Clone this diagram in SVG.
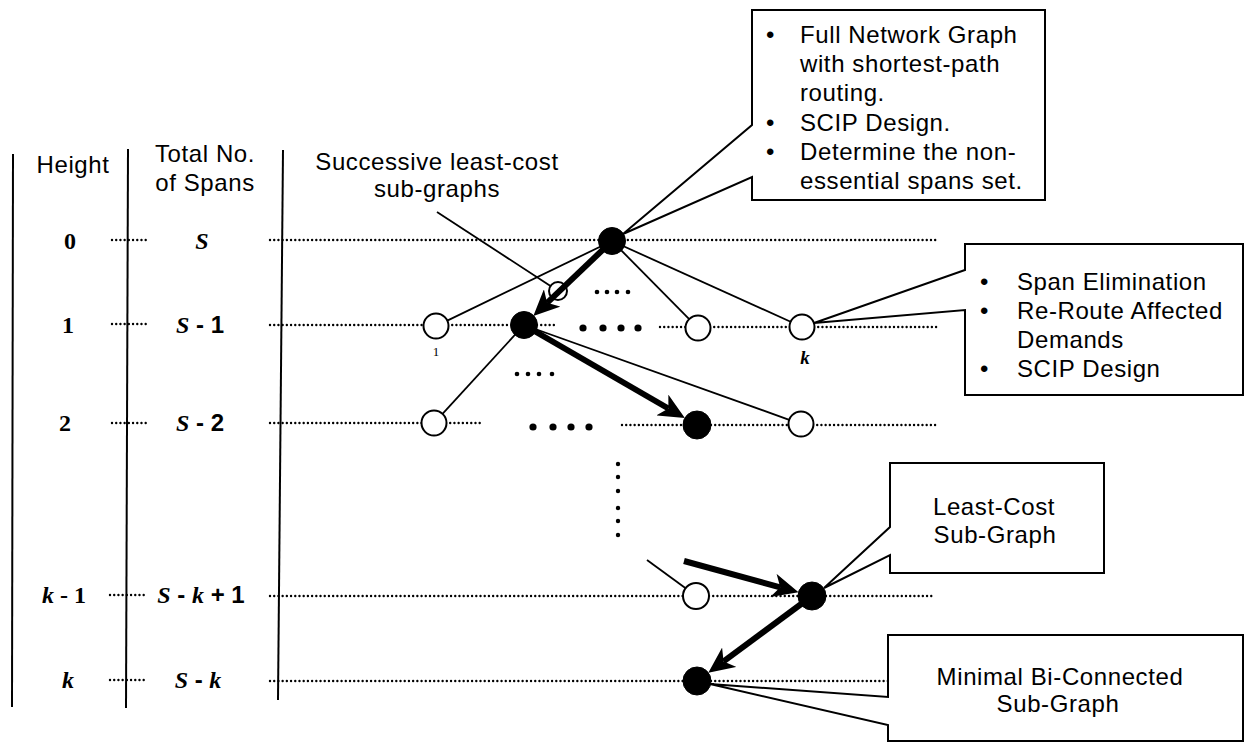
<svg xmlns="http://www.w3.org/2000/svg" width="1245" height="743" viewBox="0 0 1245 743">
  <style>
    .t { font-family: "Liberation Sans", Arial, sans-serif; font-size: 24px; letter-spacing: 0.6px; fill: #000; }
    .m { text-anchor: middle; }
    .num { font-family: "Liberation Serif", "Times New Roman", serif; font-size: 24px; font-weight: bold; fill: #000; text-anchor: middle; }
    .it { font-style: italic; }
    .sans { font-family: "Liberation Sans", Arial, sans-serif; }
    .rule { stroke: #000; stroke-width: 2; fill: none; }
    .dot { stroke: #000; stroke-width: 2.4; stroke-dasharray: 0.01 4.2; stroke-linecap: round; fill: none; }
    .edge { stroke: #000; stroke-width: 1.8; fill: none; }
    .flow { stroke: #000; stroke-width: 6; fill: none; marker-end: url(#head); }
    .open { fill: #fff; stroke: #000; stroke-width: 2; }
    .solid { fill: #000; stroke: #000; stroke-width: 1; }
    .call { fill: #fff; stroke: #000; stroke-width: 2; stroke-linejoin: miter; }
  </style>
  <defs>
    <marker id="head" viewBox="0 0 26 24" refX="7" refY="12" markerWidth="26" markerHeight="24" markerUnits="userSpaceOnUse" orient="auto">
      <path d="M0,0 L26,12 L0,24 L7,12 Z" fill="#000"/>
    </marker>
  </defs>

  <!-- column rules -->
  <g id="columns">
    <line class="rule" x1="13" y1="154" x2="12" y2="707"/>
    <line class="rule" x1="128" y1="149" x2="126" y2="708"/>
    <line class="rule" x1="283" y1="150" x2="278" y2="700"/>
  </g>

  <!-- column headings and level labels -->
  <g id="labels">
    <text class="t m" x="73" y="173">Height</text>
    <text class="t m" x="205" y="162">Total No.</text>
    <text class="t m" x="205" y="191">of Spans</text>

    <text class="num" x="70" y="249">0</text>
    <text class="num" x="68" y="333">1</text>
    <text class="num" x="65" y="431">2</text>
    <text class="num" x="64" y="603"><tspan class="it">k</tspan> - 1</text>
    <text class="num" x="68" y="688"><tspan class="it">k</tspan></text>

    <text class="num" x="202" y="249"><tspan class="it">S</tspan></text>
    <text class="num" x="200" y="333"><tspan class="it">S</tspan><tspan class="sans"> - 1</tspan></text>
    <text class="num" x="200" y="431"><tspan class="it">S</tspan><tspan class="sans"> - 2</tspan></text>
    <text class="num" x="201" y="603"><tspan class="it">S</tspan><tspan class="sans"> - </tspan><tspan class="it">k</tspan><tspan class="sans"> + 1</tspan></text>
    <text class="num" x="198" y="688"><tspan class="it">S</tspan><tspan class="sans"> - </tspan><tspan class="it">k</tspan></text>

    <text class="t m" x="437" y="170">Successive least-cost</text>
    <text class="t m" x="437" y="197">sub-graphs</text>
  </g>

  <!-- dotted level lines -->
  <g id="levels">
    <line class="dot" x1="112" y1="240" x2="147" y2="240"/>
    <line class="dot" x1="112" y1="324" x2="147" y2="324"/>
    <line class="dot" x1="112" y1="423" x2="147" y2="423"/>
    <line class="dot" x1="110" y1="595" x2="145" y2="595"/>
    <line class="dot" x1="110" y1="680" x2="145" y2="680"/>

    <line class="dot" x1="270" y1="240" x2="937" y2="240"/>

    <line class="dot" x1="270" y1="325" x2="424" y2="325"/>
    <line class="dot" x1="448" y1="325" x2="511" y2="325"/>
    <line class="dot" x1="537" y1="325" x2="558" y2="325"/>
    <line class="dot" x1="660" y1="327" x2="686" y2="327"/>
    <line class="dot" x1="710" y1="327" x2="790" y2="327"/>
    <line class="dot" x1="814" y1="327" x2="937" y2="327"/>

    <line class="dot" x1="270" y1="423" x2="422" y2="423"/>
    <line class="dot" x1="446" y1="423" x2="480" y2="423"/>
    <line class="dot" x1="622" y1="425" x2="683" y2="425"/>
    <line class="dot" x1="711" y1="425" x2="789" y2="425"/>
    <line class="dot" x1="813" y1="425" x2="937" y2="425"/>

    <line class="dot" x1="270" y1="596" x2="683" y2="596"/>
    <line class="dot" x1="709" y1="596" x2="798" y2="596"/>
    <line class="dot" x1="826" y1="596" x2="935" y2="596"/>

    <line class="dot" x1="270" y1="681" x2="683" y2="681"/>
    <line class="dot" x1="711" y1="681" x2="888" y2="681"/>
  </g>

  <!-- ellipsis dots between nodes -->
  <g id="ellipses" fill="#000">
    <circle cx="597" cy="292" r="2.3"/><circle cx="607" cy="292" r="2.3"/><circle cx="617" cy="292" r="2.3"/><circle cx="628" cy="292" r="2.3"/>
    <circle cx="583" cy="328" r="3.6"/><circle cx="603" cy="328" r="3.6"/><circle cx="621" cy="328" r="3.6"/><circle cx="638" cy="328" r="3.6"/>
    <circle cx="517" cy="374" r="2.3"/><circle cx="528" cy="374" r="2.3"/><circle cx="539" cy="374" r="2.3"/><circle cx="552" cy="374" r="2.3"/>
    <circle cx="533" cy="427" r="3.6"/><circle cx="553" cy="427" r="3.6"/><circle cx="571" cy="427" r="3.6"/><circle cx="589" cy="427" r="3.6"/>
    <circle cx="618" cy="464" r="2.2"/><circle cx="618" cy="477" r="2.2"/><circle cx="618" cy="491" r="2.2"/>
    <circle cx="618" cy="508" r="2.2"/><circle cx="618" cy="521" r="2.2"/><circle cx="618" cy="535" r="2.2"/>
  </g>

  <!-- graph nodes -->
  <g id="n-root"><circle class="solid" cx="612" cy="241" r="13.5"/></g>
  <g id="n-hidden"><circle class="open" cx="558" cy="291" r="9"/></g>
  <g id="n-1-1"><circle class="open" cx="436" cy="326" r="12.5"/>
    <text x="436" y="356" font-family="Liberation Serif, serif" font-size="13" fill="#000" text-anchor="middle">1</text></g>
  <g id="n-1-best"><circle class="solid" cx="524" cy="325" r="13.5"/></g>
  <g id="n-1-3"><circle class="open" cx="698" cy="328" r="12.5"/></g>
  <g id="n-1-k"><circle class="open" cx="802" cy="327" r="12.5"/>
    <text x="805" y="364" font-family="Liberation Serif, serif" font-size="19" font-weight="bold" font-style="italic" fill="#000" text-anchor="middle">k</text></g>
  <g id="n-2-1"><circle class="open" cx="434" cy="423" r="12.5"/></g>
  <g id="n-2-best"><circle class="solid" cx="697" cy="425" r="14"/></g>
  <g id="n-2-k"><circle class="open" cx="801" cy="424" r="12.5"/></g>
  <g id="n-k1-a"><circle class="open" cx="696" cy="596" r="13"/></g>
  <g id="n-k1-best"><circle class="solid" cx="812" cy="596" r="14"/></g>
  <g id="n-k-best"><circle class="solid" cx="697" cy="681" r="14"/></g>

  <!-- edges and search path -->
  <g id="connectors">
    <line class="edge" x1="437" y1="212" x2="550.5" y2="286"/>
    <line class="edge" x1="612" y1="241" x2="447.3" y2="320.6"/>
    <line class="edge" x1="612" y1="241" x2="689.2" y2="319.1"/>
    <line class="edge" x1="612" y1="241" x2="790.6" y2="321.8"/>
    <line class="edge" x1="524" y1="325" x2="442.5" y2="413.8"/>
    <line class="edge" x1="524" y1="325" x2="789.2" y2="419.8"/>
    <line class="edge" x1="686" y1="588.6" x2="647" y2="560"/>

    <line class="flow" x1="612" y1="241" x2="547.1" y2="302.8"/>
    <line class="flow" x1="524" y1="325" x2="668.4" y2="408.5"/>
    <line class="flow" x1="684" y1="561" x2="780.2" y2="587.3"/>
    <line class="flow" x1="812" y1="596" x2="723.6" y2="661.4"/>
  </g>

  <!-- callouts -->
  <g id="c-full">
    <path class="call" d="M752,10 H1045 V200 H752 V177 L623,234 L752,125 Z"/>
    <text class="t" x="766" y="43">•</text>
    <text class="t" x="800" y="43">Full Network Graph</text>
    <text class="t" x="800" y="72">with shortest-path</text>
    <text class="t" x="800" y="101">routing.</text>
    <text class="t" x="766" y="131">•</text>
    <text class="t" x="800" y="131">SCIP Design.</text>
    <text class="t" x="766" y="160">•</text>
    <text class="t" x="800" y="160">Determine the non-</text>
    <text class="t" x="800" y="189">essential spans set.</text>
  </g>
  <g id="c-span">
    <path class="call" d="M965,244 H1243 V395 H965 V310 L814,323 L965,270 Z"/>
    <text class="t" x="980" y="290">•</text>
    <text class="t" x="1017" y="290">Span Elimination</text>
    <text class="t" x="980" y="319">•</text>
    <text class="t" x="1017" y="319">Re-Route Affected</text>
    <text class="t" x="1017" y="348">Demands</text>
    <text class="t" x="980" y="377">•</text>
    <text class="t" x="1017" y="377">SCIP Design</text>
  </g>
  <g id="c-least">
    <path class="call" d="M890,463 H1104 V573 H890 V555 L824,588 L890,527 Z"/>
    <text class="t m" x="994" y="515">Least-Cost</text>
    <text class="t m" x="995" y="543">Sub-Graph</text>
  </g>
  <g id="c-minimal">
    <path class="call" d="M888,635 H1243 V741 H888 V725 L710,684 L888,697 Z"/>
    <text class="t m" x="1060" y="685">Minimal Bi-Connected</text>
    <text class="t m" x="1058" y="712">Sub-Graph</text>
  </g>
</svg>
